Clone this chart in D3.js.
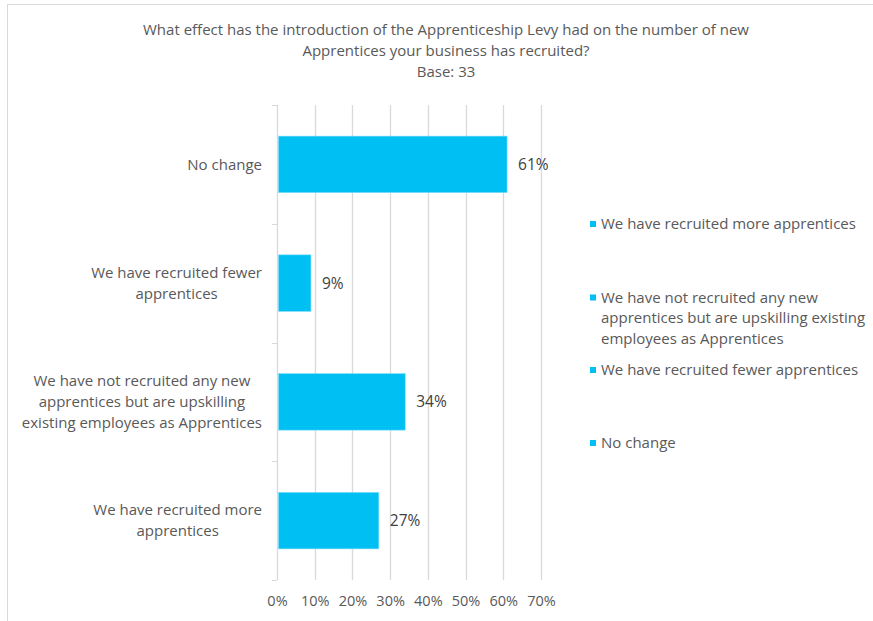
<!DOCTYPE html>
<html>
<head>
<meta charset="utf-8">
<script src="https://cdn.jsdelivr.net/npm/d3@7"></script>
<style>
  html, body { margin: 0; padding: 0; background: #fff; }
  svg { display: block; }
  text { font-family: "Open Sans", sans-serif; fill: #595959; }
</style>
</head>
<body>
<svg id="chart" width="873" height="621"></svg>
<script>
// Survey answers, listed bottom-to-top as on the category axis
const categories = [
  "We have recruited more apprentices",
  "We have not recruited any new apprentices but are upskilling existing employees as Apprentices",
  "We have recruited fewer apprentices",
  "No change"
];
const values = [27, 34, 9, 61];
const axisLabelLines = [
  ["We have recruited more", "apprentices"],
  ["We have not recruited any new", "apprentices but are upskilling", "existing employees as Apprentices"],
  ["We have recruited fewer", "apprentices"],
  ["No change"]
];
const legendLabelLines = [
  ["We have recruited more apprentices"],
  ["We have not recruited any new", "apprentices but are upskilling existing", "employees as Apprentices"],
  ["We have recruited fewer apprentices"],
  ["No change"]
];
const tickValues = [0, 10, 20, 30, 40, 50, 60, 70];
const titleLines = [
  "What effect has the introduction  of the Apprenticeship Levy had on the number of new",
  "Apprentices your business has recruited?",
  "Base: 33"
];

const barColor = "#00BFF3";
const gridColor = "#D9D9D9";

const svg = d3.select("#chart");

// Outer chart frame
svg.append("rect")
  .attr("x", 7.5).attr("y", 4.5)
  .attr("width", 900).attr("height", 700)
  .attr("fill", "none").attr("stroke", gridColor).attr("stroke-width", 1);

// Title
svg.append("g").selectAll("text")
  .data(titleLines)
  .join("text")
  .attr("x", 446)
  .attr("y", (d, i) => 30 + i * 21)
  .attr("dy", "0.35em")
  .attr("text-anchor", "middle")
  .style("font-size", "15px")
  .text(d => d);

const x = d3.scaleLinear().domain([0, 70]).range([277, 541]);
const order = categories.slice().reverse(); // top to bottom
const y = d3.scaleBand().domain(order).range([105, 580])
  .paddingInner(0.524).paddingOuter(0.262);

// Vertical gridlines
const grid = svg.append("g");
grid.selectAll("line")
  .data(tickValues)
  .join("line")
  .attr("x1", d => Math.round(x(d)) + 0.5)
  .attr("x2", d => Math.round(x(d)) + 0.5)
  .attr("y1", 105).attr("y2", 580)
  .attr("stroke", gridColor).attr("stroke-width", 1.3);

// Category tick marks on the left of the axis
const step = y.step();
const boundaries = d3.range(categories.length + 1).map(i => 105 + i * step);
svg.append("g").selectAll("line")
  .data(boundaries)
  .join("line")
  .attr("x1", x(0) - 5).attr("x2", x(0))
  .attr("y1", d => Math.round(d) + 0.5).attr("y2", d => Math.round(d) + 0.5)
  .attr("stroke", gridColor).attr("stroke-width", 1);

// X axis tick labels
const xAxis = d3.axisBottom(x).tickValues(tickValues).tickFormat(d => d + "%").tickSize(0);
const xg = svg.append("g").attr("transform", "translate(0,593)").call(xAxis);
xg.select(".domain").remove();
xg.selectAll("text")
  .attr("fill", "#595959")
  .style("font-family", "Open Sans, sans-serif")
  .style("font-size", "14.5px");

// Bars
const data = categories.map((c, i) => ({ cat: c, value: values[i], lines: axisLabelLines[i] }));
svg.append("g").selectAll("rect")
  .data(data)
  .join("rect")
  .attr("x", x(0) + 1.5)
  .attr("y", d => y(d.cat))
  .attr("width", d => x(d.value) - x(0) - 1.5)
  .attr("height", y.bandwidth())
  .attr("fill", barColor)
  .attr("stroke", "#7FDDF8").attr("stroke-width", 0.6);

// Value labels
svg.append("g").selectAll("text")
  .data(data)
  .join("text")
  .attr("x", d => x(d.value) + 11)
  .attr("y", d => y(d.cat) + y.bandwidth() / 2)
  .attr("dy", "0.35em")
  .style("font-size", "15.5px")
  .style("fill", "#404040")
  .text(d => d.value + "%");

// Category labels: centred lines, block right-aligned to the axis
const catLabels = svg.append("g");
data.forEach(d => {
  const g = catLabels.append("g");
  const n = d.lines.length;
  const cy = y(d.cat) + y.bandwidth() / 2;
  const texts = g.selectAll("text")
    .data(d.lines)
    .join("text")
    .attr("y", (t, i) => cy + (i - (n - 1) / 2) * 21)
    .attr("dy", "0.35em")
    .attr("text-anchor", "middle")
    .style("font-size", "15px")
    .text(t => t);
  let w = 0;
  texts.each(function () { w = Math.max(w, this.getComputedTextLength()); });
  texts.attr("x", 262 - w / 2);
});

// Legend, listed in reverse of the axis order
const legendY = [224, 318, 370, 443];
const legend = svg.append("g");
data.forEach((d, i) => {
  const lines = legendLabelLines[i];
  const cy = legendY[i];
  const top = cy - (lines.length - 1) / 2 * 20.5;
  legend.append("rect")
    .attr("x", 590).attr("y", top - 3)
    .attr("width", 6).attr("height", 6)
    .attr("fill", barColor);
  legend.append("g").selectAll("text")
    .data(lines)
    .join("text")
    .attr("x", 601)
    .attr("y", (t, j) => top + j * 20.5)
    .attr("dy", "0.35em")
    .style("font-size", "15px")
    .text(t => t);
});
</script>
</body>
</html>
